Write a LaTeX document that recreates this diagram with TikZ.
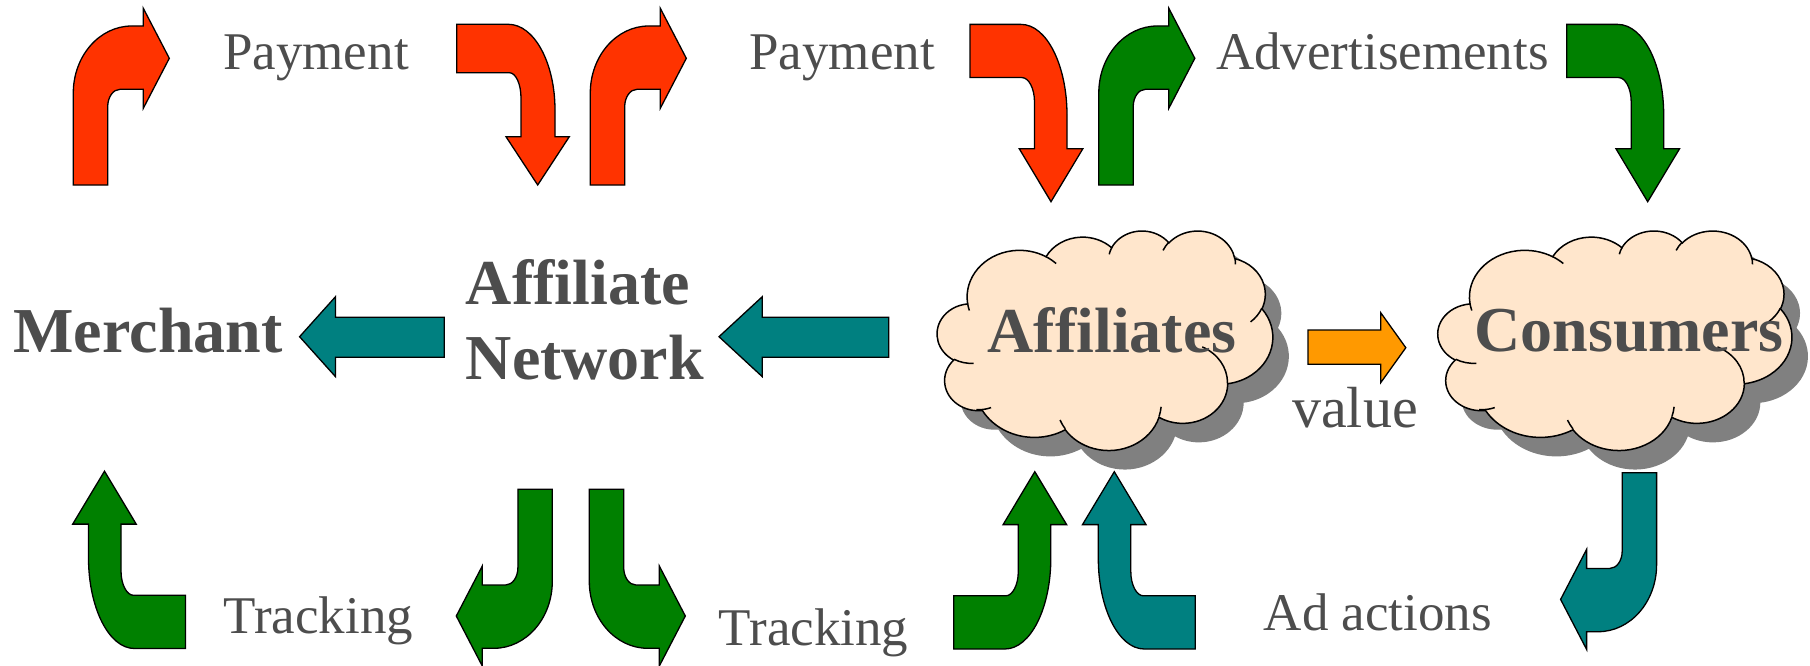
\documentclass[tikz,border=0pt]{standalone}
\usepackage{fontspec}
\setmainfont{Liberation Serif}
\definecolor{pred}{HTML}{FF3300}
\definecolor{pgreen}{HTML}{008000}
\definecolor{pteal}{HTML}{008080}
\definecolor{porange}{HTML}{FF9900}
\definecolor{ppeach}{HTML}{FFE6CC}
\definecolor{pshadow}{HTML}{808080}
\definecolor{ptext}{HTML}{4D4D4D}

% cloud arc preparation (OOXML visual angles -> parametric angles)
\newcommand\cldprep[5]{%
  \pgfmathsetmacro\cldtA{atan2((#2)*sin(#4),(#3)*cos(#4))}%
  \pgfmathsetmacro\cldtB{atan2((#2)*sin((#4)+(#5)),(#3)*cos((#4)+(#5)))}%
  \pgfmathsetmacro\cldtB{\cldtB+((#5)>0)*(\cldtB<\cldtA)*360-((#5)<0)*(\cldtB>\cldtA)*360}%
  \expandafter\xdef\csname cldS#1\endcsname{\cldtA}%
  \expandafter\xdef\csname cldE#1\endcsname{\cldtB}%
}
\cldprep{a}{67.53}{91.90}{-190.4875}{123.7805}
\cldprep{b}{53.33}{72.67}{-144.1024}{89.9452}
\cldprep{c}{43.65}{59.45}{-145.8079}{99.7230}
\cldprep{d}{48.57}{65.95}{-130.9861}{117.2417}
\cldprep{e}{53.33}{72.73}{-78.7089}{109.0269}
\cldprep{f}{67.75}{92.20}{-46.2673}{130.2690}
\cldprep{g}{57.85}{78.67}{0.6250}{114.0333}
\cldprep{h}{67.52}{92.15}{22.4516}{115.1726}
\cldprep{i}{77.20}{105.43}{66.2426}{75.7110}
\cldprep{j}{43.60}{59.18}{-274.9421}{146.7356}
\cldprep{k}{43.45}{59.45}{-246.8285}{152.5189}
\cldprep{ia}{43.45}{59.45}{86.7420}{26.4295}
\cldprep{ib}{43.60}{59.18}{73.6075}{19.1405}
\cldprep{ic}{67.52}{92.15}{137.6242}{14.0685}
\cldprep{id}{67.52}{92.15}{6.4533}{15.9984}
\cldprep{ie}{57.85}{78.67}{-70.2924}{70.9174}
\cldprep{if}{53.33}{72.73}{30.3180}{27.7515}
\cldprep{ig}{48.57}{65.95}{-13.7443}{14.8589}
\cldprep{ih}{48.57}{65.95}{-149.1815}{18.1954}
\cldprep{ii}{43.65}{59.45}{-163.4943}{17.6864}
\cldprep{ij}{67.53}{91.90}{-66.7070}{12.3194}
\cldprep{ik}{67.53}{91.90}{157.6544}{11.8582}

\newcommand\cldouter[1]{%
\path[#1] (39.00,143.70)
 arc[start angle=\cldSa, end angle=\cldEa, x radius=67.53, y radius=91.90]
 arc[start angle=\cldSb, end angle=\cldEb, x radius=53.33, y radius=72.67]
 arc[start angle=\cldSc, end angle=\cldEc, x radius=43.65, y radius=59.45]
 arc[start angle=\cldSd, end angle=\cldEd, x radius=48.57, y radius=65.95]
 arc[start angle=\cldSe, end angle=\cldEe, x radius=53.33, y radius=72.73]
 arc[start angle=\cldSf, end angle=\cldEf, x radius=67.75, y radius=92.20]
 arc[start angle=\cldSg, end angle=\cldEg, x radius=57.85, y radius=78.67]
 arc[start angle=\cldSh, end angle=\cldEh, x radius=67.52, y radius=92.15]
 arc[start angle=\cldSi, end angle=\cldEi, x radius=77.20, y radius=105.43]
 arc[start angle=\cldSj, end angle=\cldEj, x radius=43.60, y radius=59.18]
 arc[start angle=\cldSk, end angle=\cldEk, x radius=43.45, y radius=59.45]
 -- cycle;}
\newcommand\cldinner[1]{%
\path[#1]
 (46.93,261.77) arc[start angle=\cldSia, end angle=\cldEia, x radius=43.45, y radius=59.45]
 (69.28,348.99) arc[start angle=\cldSib, end angle=\cldEib, x radius=43.60, y radius=59.18]
 (164.78,390.90) arc[start angle=\cldSic, end angle=\cldEic, x radius=67.52, y radius=92.15]
 (288.27,347.51) arc[start angle=\cldSid, end angle=\cldEid, x radius=67.52, y radius=92.15]
 (341.29,229.54) arc[start angle=\cldSie, end angle=\cldEie, x radius=57.85, y radius=78.67]
 (417.98,153.54) arc[start angle=\cldSif, end angle=\cldEif, x radius=53.33, y radius=72.73]
 (383.24,54.26) arc[start angle=\cldSig, end angle=\cldEig, x radius=48.57, y radius=65.95]
 (290.78,39.52) arc[start angle=\cldSih, end angle=\cldEih, x radius=48.57, y radius=65.95]
 (221.41,47.20) arc[start angle=\cldSii, end angle=\cldEii, x radius=43.65, y radius=59.45]
 (140.00,51.92) arc[start angle=\cldSij, end angle=\cldEij, x radius=67.53, y radius=91.90]
 (41.27,157.89) arc[start angle=\cldSik, end angle=\cldEik, x radius=67.53, y radius=91.90];}

% bent arrows
\newcommand\arrP[1]{\path[#1] (0,0) -- (0,-92) .. controls (0,-129) and (26.2,-159) .. (58.4,-159) -- (70,-159) -- (70,-176.7) -- (96,-126.7) -- (70,-76.7) -- (70,-95.7) -- (46.7,-95.7) .. controls (39.9,-95.7) and (34.4,-87.9) .. (34.4,-78.3) -- (34.4,0) -- cycle;}
\newcommand\arrQa[1]{\path[#1] (0,0) -- (51.6,0) .. controls (77.4,0) and (98.3,38.4) .. (98.3,85.7) -- (98.3,112.4) -- (112.6,112.4) -- (81,160.7) -- (49.3,112.4) -- (64.3,112.4) -- (64.3,73.7) .. controls (64.3,59.7) and (59.1,48.4) .. (52.6,48.4) -- (0,48.4) -- cycle;}
\newcommand\arrQb[1]{\path[#1] (0,0) -- (51,0) .. controls (77,0) and (97,41.6) .. (97,90.6) -- (97,124.4) -- (112.8,124.4) -- (81,177.3) -- (49.3,124.4) -- (64.5,124.4) -- (64.5,77.6) .. controls (64.5,63.6) and (58.5,53.2) .. (52,53.2) -- (0,53.2) -- cycle;}

\begin{document}
\begin{tikzpicture}[x=1pt,y=-1pt,
  blk/.style={draw=black, line width=1.3pt, line join=miter},
  lbl/.style={font=\fontsize{53}{60}\selectfont, text=ptext, inner sep=0pt, anchor=base},
  big/.style={font=\fontsize{64}{70}\selectfont\bfseries, text=ptext, inner sep=0pt, anchor=base}]
\useasboundingbox (0,0) rectangle (1810,666);
\fill[white] (0,0) rectangle (1810,666);

% clouds
\begin{scope}[shift={(953.3,249.3)}, x=0.77639pt, y=-0.5080pt]
  \cldouter{fill=pshadow}
\end{scope}
\begin{scope}[shift={(937.3,230.3)}, x=0.77639pt, y=-0.5080pt]
  \cldouter{fill=ppeach, draw=black, line width=1.5pt}
  \cldinner{draw=black, line width=1.5pt}
\end{scope}
\begin{scope}[shift={(1454,249.3)}, x=0.81898pt, y=-0.5080pt]
  \cldouter{fill=pshadow}
\end{scope}
\begin{scope}[shift={(1438,230.3)}, x=0.81898pt, y=-0.5080pt]
  \cldouter{fill=ppeach, draw=black, line width=1.5pt}
  \cldinner{draw=black, line width=1.5pt}
\end{scope}

% top bent arrows
\begin{scope}[shift={(73.3,185)}]\arrP{blk, fill=pred}\end{scope}
\begin{scope}[shift={(590.3,185)}]\arrP{blk, fill=pred}\end{scope}
\begin{scope}[shift={(1098.8,185)}]\arrP{blk, fill=pgreen}\end{scope}
\begin{scope}[shift={(456.7,24.3)}]\arrQa{blk, fill=pred}\end{scope}
\begin{scope}[shift={(970,24.4)}]\arrQb{blk, fill=pred}\end{scope}
\begin{scope}[shift={(1566.7,24.4)}]\arrQb{blk, fill=pgreen}\end{scope}

% bottom bent arrows
\begin{scope}[shift={(185.5,648.5)}, rotate=180]\arrQb{blk, fill=pgreen}\end{scope}
\begin{scope}[shift={(552.3,489.3)}, rotate=180]\arrP{blk, fill=pgreen}\end{scope}
\begin{scope}[shift={(589.3,489.3)}, yscale=-1]\arrP{blk, fill=pgreen}\end{scope}
\begin{scope}[shift={(953.8,649)}, yscale=-1]\arrQb{blk, fill=pgreen}\end{scope}
\begin{scope}[shift={(1195.3,649)}, rotate=180]\arrQb{blk, fill=pteal}\end{scope}
\begin{scope}[shift={(1656.6,472.7)}, rotate=180]\arrP{blk, fill=pteal}\end{scope}

% straight block arrows
\draw[blk, fill=pteal] (444.2,317.3) -- (335.5,317.3) -- (335.5,296.7) -- (299.6,336.7) -- (335.5,376.7) -- (335.5,357.3) -- (444.2,357.3) -- cycle;
\draw[blk, fill=pteal] (888.8,317.3) -- (762.3,317.3) -- (762.3,296.7) -- (719,336.7) -- (762.3,376.7) -- (762.3,357.3) -- (888.8,357.3) -- cycle;
\draw[blk, fill=porange] (1308,330) -- (1380.7,330) -- (1380.7,312.7) -- (1405.8,347.7) -- (1380.7,382.7) -- (1380.7,364.3) -- (1308,364.3) -- cycle;

% texts
\node[big] (merchant) at (148,352) {Merchant};
\node[big, anchor=base west] (an1) at (465.6,304) {Affiliate};
\node[big, anchor=base west] (an2) at (465.6,379.3) {Network};
\node[big] (affiliates) at (1112,352.7) {Affiliates};
\node[big] (consumers) at (1629,351.7) {Consumers};
\node[lbl, font=\fontsize{58}{64}\selectfont] (value) at (1355,427.5) {value};
\node[lbl] (pay1) at (316,70) {Payment};
\node[lbl] (pay2) at (842,70) {Payment};
\node[lbl] (adv) at (1382.4,70) {Advertisements};
\node[lbl] (track1) at (318.3,633.3) {Tracking};
\node[lbl] (track2) at (813.7,645) {Tracking};
\node[lbl] (adact) at (1377.8,630) {Ad actions};
\end{tikzpicture}
\end{document}
